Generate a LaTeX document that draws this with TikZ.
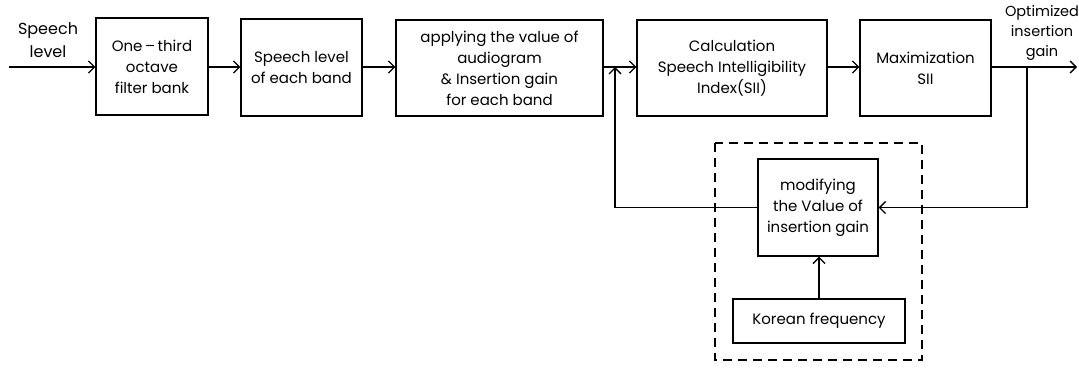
\documentclass[tikz,border=0pt]{standalone}
\usepackage{fontspec}
\setmainfont{Poppins}
\usetikzlibrary{arrows.meta}
\begin{document}
\begin{tikzpicture}[x=1pt,y=-1pt,
  blk/.style={draw,line width=1.3pt,align=center,inner sep=0pt,font=\fontsize{15}{21}\selectfont},
  lbl/.style={align=center,inner sep=0pt,font=\fontsize{16}{23}\selectfont},
  con/.style={line width=1.3pt,-{Straight Barb[length=6pt,width=12pt,line width=1.3pt]}},
  ln/.style={line width=1.3pt}]
\useasboundingbox (0,0) rectangle (1079,367);
\node[blk,minimum width=112pt,minimum height=97pt] (b1) at (152,66.5) {One\,--\,third\\octave\\filter bank};
\node[blk,minimum width=121pt,minimum height=97pt] (b2) at (301.5,67.5) {Speech level\\of each band};
\node[blk,minimum width=207pt,minimum height=96pt] (b3) at (499.5,68) {applying the value of\\audiogram\\\& Insertion gain\\for each band};
\node[blk,minimum width=190pt,minimum height=96pt] (b4) at (732,68) {Calculation\\Speech Intelligibility\\Index(SII)};
\node[blk,minimum width=131pt,minimum height=96pt] (b5) at (925.5,68) {Maximization\\SII};
\node[blk,minimum width=120pt,minimum height=97pt] (b6) at (818,207.5) {modifying\\the Value of\\insertion gain};
\node[blk,minimum width=172pt,minimum height=44pt] (b7) at (819,321) {Korean frequency};
\node[lbl] (in) at (48,40) {Speech\\level};
\node[blk,draw=none,font=\fontsize{14.5}{20}\selectfont] (out) at (1042,33) {Optimized\\insertion\\gain};
\coordinate (s) at (9,67);
\coordinate (e) at (1077,67);
\coordinate (j) at (615,67);
\coordinate (br) at (1027,67);
\draw[con] (s) -- (b1.west |- s);
\draw[con] (b1.east |- s) -- (b2.west |- s);
\draw[con] (b2.east |- s) -- (b3.west |- s);
\draw[con] (b3.east |- s) -- (b4.west |- s);
\draw[con] (b4.east |- s) -- (b5.west |- s);
\draw[con] (b5.east |- s) -- (e);
\draw[con] (br) -- (br |- b6.east) -- (b6.east);
\draw[con] (b6.west) -- (j |- b6.west) -- (j);
\draw[con] (b7.north) -- (b7.north |- b6.south);
\draw[line width=2pt,dash pattern=on 9pt off 6pt] (715,143) rectangle (922,360);
\end{tikzpicture}
\end{document}
